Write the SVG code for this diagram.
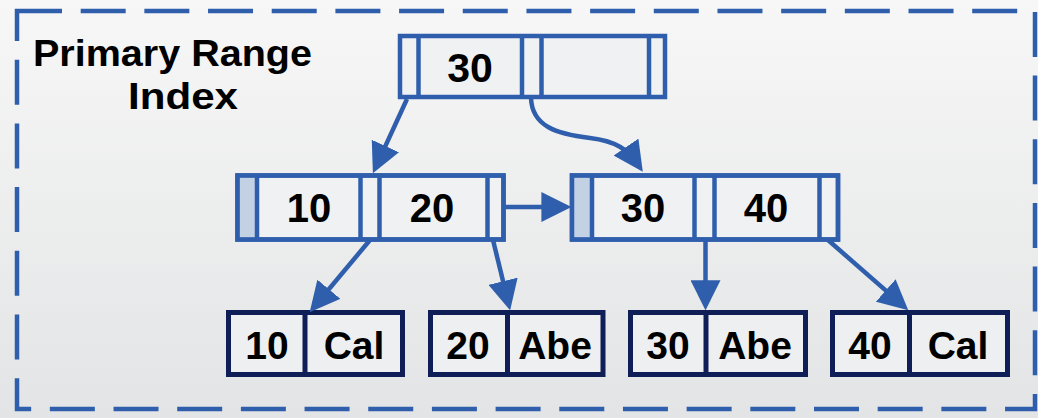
<svg xmlns="http://www.w3.org/2000/svg" width="1038" height="418" viewBox="0 0 1038 418">
  <defs>
    <linearGradient id="bg" x1="0" y1="0" x2="0" y2="1">
      <stop offset="0" stop-color="#F7F7F7"/>
      <stop offset="1" stop-color="#E3E4E5"/>
    </linearGradient>
    <marker id="ah" markerUnits="userSpaceOnUse" markerWidth="30" markerHeight="30" viewBox="0 0 29 29" refX="19" refY="14.5" orient="auto">
      <path d="M0,0 L29,14.5 L0,29 z" fill="#2F5FAC"/>
    </marker>
    <style>
      .frame { fill: none; stroke: #2F5FAC; stroke-width: 4.5; stroke-dasharray: 45 18.68; }
      .bnode { fill: #F0F1F3; stroke: #2F5FAC; stroke-width: 4.5; }
      .bdiv { stroke: #2F5FAC; stroke-width: 4.5; }
      .slot { fill: #C3D1E4; }
      .leaf { fill: #EEEFF1; stroke: #101E58; stroke-width: 5; }
      .ldiv { stroke: #101E58; stroke-width: 5; }
      .conn { fill: none; stroke: #2F5FAC; stroke-width: 4.5; marker-end: url(#ah); }
      .key { font-family: "Liberation Sans", Arial, sans-serif; font-weight: bold; fill: #000; text-anchor: middle; }
      .title { font-family: "Liberation Sans", Arial, sans-serif; font-weight: bold; fill: #000; text-anchor: middle; font-size: 37px; }
    </style>
  </defs>

  <rect x="0" y="0" width="1038" height="418" fill="url(#bg)"/>
  <rect class="frame" x="17" y="11" width="1018" height="398"/>

  <g id="title">
    <text class="title" x="172.5" y="66" textLength="279" lengthAdjust="spacingAndGlyphs">Primary Range</text>
    <text class="title" x="183" y="109" textLength="110" lengthAdjust="spacingAndGlyphs">Index</text>
  </g>

  <g id="root-node">
    <rect class="bnode" x="400" y="36" width="265" height="61"/>
    <line class="bdiv" x1="418.5" y1="36" x2="418.5" y2="97"/>
    <line class="bdiv" x1="522" y1="36" x2="522" y2="97"/>
    <line class="bdiv" x1="541.5" y1="36" x2="541.5" y2="97"/>
    <line class="bdiv" x1="649" y1="36" x2="649" y2="97"/>
    <text class="key" x="470" y="82" font-size="41">30</text>
  </g>

  <g id="mid-left-node">
    <rect class="bnode" x="237.5" y="175.5" width="266" height="64"/>
    <rect class="slot" x="239.5" y="177.5" width="17.5" height="60"/>
    <rect x="237.5" y="175.5" width="266" height="64" fill="none" stroke="#2F5FAC" stroke-width="4.5"/>
    <line class="bdiv" x1="257" y1="175.5" x2="257" y2="239.5"/>
    <line class="bdiv" x1="360.5" y1="175.5" x2="360.5" y2="239.5"/>
    <line class="bdiv" x1="379.5" y1="175.5" x2="379.5" y2="239.5"/>
    <line class="bdiv" x1="487.5" y1="175.5" x2="487.5" y2="239.5"/>
    <text class="key" x="309" y="222" font-size="40">10</text>
    <text class="key" x="432" y="222" font-size="40">20</text>
  </g>

  <g id="mid-right-node">
    <rect class="bnode" x="572" y="175.5" width="266" height="64"/>
    <rect class="slot" x="574" y="177.5" width="17.5" height="60"/>
    <rect x="572" y="175.5" width="266" height="64" fill="none" stroke="#2F5FAC" stroke-width="4.5"/>
    <line class="bdiv" x1="592" y1="175.5" x2="592" y2="239.5"/>
    <line class="bdiv" x1="694.5" y1="175.5" x2="694.5" y2="239.5"/>
    <line class="bdiv" x1="714.5" y1="175.5" x2="714.5" y2="239.5"/>
    <line class="bdiv" x1="819.5" y1="175.5" x2="819.5" y2="239.5"/>
    <text class="key" x="643" y="222" font-size="40">30</text>
    <text class="key" x="766" y="222" font-size="40">40</text>
  </g>

  <g id="leaf-10-cal">
    <rect class="leaf" x="228.5" y="312.5" width="174" height="62"/>
    <line class="ldiv" x1="305" y1="312.5" x2="305" y2="374.5"/>
    <text class="key" x="267" y="359" font-size="39">10</text>
    <text class="key" x="354" y="359" font-size="39">Cal</text>
  </g>

  <g id="leaf-20-abe">
    <rect class="leaf" x="430.5" y="312.5" width="172.5" height="62"/>
    <line class="ldiv" x1="507.5" y1="312.5" x2="507.5" y2="374.5"/>
    <text class="key" x="468" y="359" font-size="39">20</text>
    <text class="key" x="555" y="359" font-size="39">Abe</text>
  </g>

  <g id="leaf-30-abe">
    <rect class="leaf" x="630.5" y="312.5" width="175" height="62"/>
    <line class="ldiv" x1="706" y1="312.5" x2="706" y2="374.5"/>
    <text class="key" x="668" y="359" font-size="39">30</text>
    <text class="key" x="755" y="359" font-size="39">Abe</text>
  </g>

  <g id="leaf-40-cal">
    <rect class="leaf" x="832.5" y="312.5" width="175" height="62"/>
    <line class="ldiv" x1="909.5" y1="312.5" x2="909.5" y2="374.5"/>
    <text class="key" x="870" y="359" font-size="39">40</text>
    <text class="key" x="958" y="359" font-size="39">Cal</text>
  </g>

  <g id="connectors">
    <path class="conn" d="M407,99 L377.2,163.9"/>
    <path class="conn" d="M531,98 C532,126 556,134 590,138 C616,141 628,150 637,163.3"/>
    <path class="conn" d="M504,207 L561,207"/>
    <path class="conn" d="M370,240 L316.3,304.3"/>
    <path class="conn" d="M493,240 L507.7,300.3"/>
    <path class="conn" d="M705.5,240 L705.5,300"/>
    <path class="conn" d="M828,240 L900.5,303.4"/>
  </g>
</svg>
